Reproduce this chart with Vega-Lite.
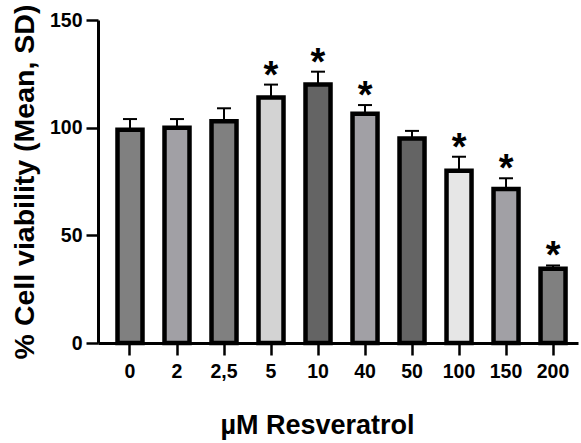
{
  "$schema": "https://vega.github.io/schema/vega-lite/v6.json",
  "width": 480,
  "height": 323,
  "autosize": {"type": "none"},
  "padding": {"left": 98, "top": 20, "right": 3, "bottom": 100},
  "background": "white",
  "config": {
    "view": {"stroke": null},
    "font": "Liberation Sans",
    "axis": {
      "domainColor": "black",
      "domainWidth": 3,
      "tickColor": "black",
      "tickWidth": 2.5,
      "tickSize": 12,
      "labelColor": "black",
      "labelFont": "Liberation Sans",
      "labelFontWeight": "bold",
      "labelFontSize": 19.5,
      "titleColor": "black",
      "titleFont": "Liberation Sans",
      "titleFontWeight": "bold",
      "grid": false
    }
  },
  "data": {
    "values": [
      {"dose": "0", "mean": 99, "upper": 104, "sig": false},
      {"dose": "2", "mean": 100, "upper": 104, "sig": false},
      {"dose": "2,5", "mean": 103, "upper": 109, "sig": false},
      {"dose": "5", "mean": 114, "upper": 120, "sig": true},
      {"dose": "10", "mean": 120, "upper": 126, "sig": true},
      {"dose": "40", "mean": 106.5, "upper": 110.5, "sig": true},
      {"dose": "50", "mean": 95, "upper": 98.5, "sig": false},
      {"dose": "100", "mean": 80, "upper": 86.5, "sig": true},
      {"dose": "150", "mean": 71.5, "upper": 76.5, "sig": true},
      {"dose": "200", "mean": 34.5, "upper": 36, "sig": true}
    ]
  },
  "encoding": {
    "x": {
      "field": "dose",
      "type": "nominal",
      "sort": null,
      "scale": {"paddingInner": 0.468, "paddingOuter": 0.34, "align": 0.61},
      "axis": {
        "title": "µM Resveratrol",
        "titleFontSize": 27,
        "labelAngle": 0,
        "labelPadding": 7,
        "titlePadding": 32,
        "titleX": 219
      }
    }
  },
  "layer": [
    {
      "mark": {"type": "bar", "stroke": "black", "strokeWidth": 4.5},
      "encoding": {
        "y": {
          "field": "mean",
          "type": "quantitative",
          "scale": {"domain": [0, 150], "nice": false},
          "axis": {
            "title": "% Cell viability (Mean, SD)",
            "titleFontSize": 28.5,
            "values": [0, 50, 100, 150],
            "labelPadding": 4,
            "titlePadding": 10
          }
        },
        "fill": {
          "field": "dose",
          "type": "nominal",
          "legend": null,
          "scale": {
            "domain": ["0", "2", "2,5", "5", "10", "40", "50", "100", "150", "200"],
            "range": ["#808080", "#a1a0a5", "#808080", "#d3d3d3", "#646464", "#a1a0a5", "#646464", "#e6e6e6", "#a1a0a5", "#808080"]
          }
        }
      }
    },
    {
      "mark": {"type": "rule", "color": "black", "strokeWidth": 2},
      "encoding": {
        "y": {"field": "mean", "type": "quantitative"},
        "y2": {"field": "upper"}
      }
    },
    {
      "mark": {"type": "tick", "color": "black", "size": 14, "thickness": 2, "opacity": 1},
      "encoding": {
        "y": {"field": "upper", "type": "quantitative"}
      }
    },
    {
      "transform": [{"filter": "datum.sig"}],
      "mark": {"type": "text", "text": "*", "font": "Liberation Sans", "fontWeight": "bold", "fontSize": 38, "color": "black", "baseline": "alphabetic", "dy": 3},
      "encoding": {
        "y": {"field": "upper", "type": "quantitative"}
      }
    }
  ]
}
